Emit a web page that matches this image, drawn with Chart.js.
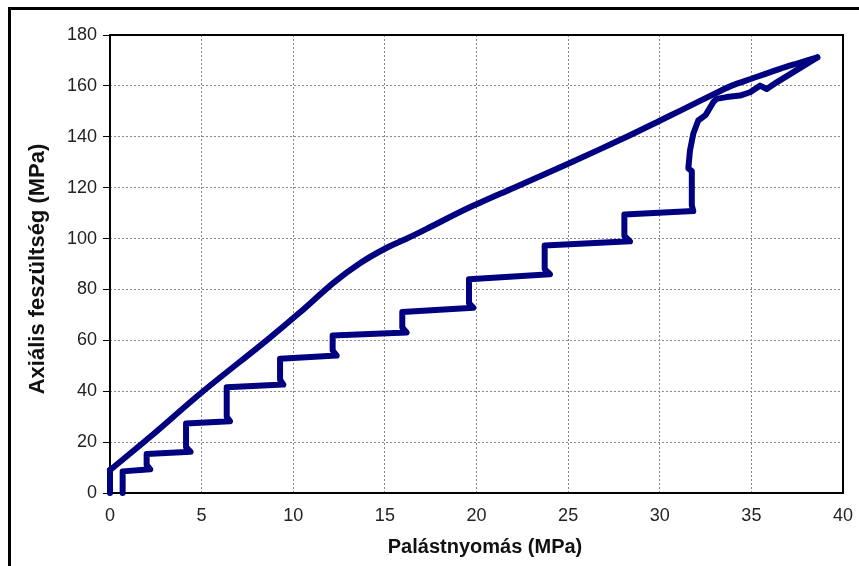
<!DOCTYPE html>
<html>
<head>
<meta charset="utf-8">
<script src="https://cdn.jsdelivr.net/npm/chart.js@4.4.1/dist/chart.umd.min.js"></script>
<style>
  html, body { margin: 0; padding: 0; background: #fff; overflow: hidden; }
  #wrap { position: relative; width: 859px; height: 566px; }
  #box { position: absolute; left: 8px; top: 7px; width: 900px; height: 600px; border: 3px solid #000; }
  canvas { position: absolute; left: 0; top: 0; }
</style>
</head>
<body>
<div id="wrap">
  <div id="box"></div>
  <canvas id="chart" width="859" height="566"></canvas>
</div>
<script>
// loading branch: palástnyomás (MPa) vs axiális feszültség (MPa), stepwise
const loadP = [0.69, 0.69, 2.2, 2.0, 2.0, 4.4, 4.15, 4.15, 6.55, 6.37, 6.37,
  9.46, 9.28, 9.28, 12.37, 12.15, 12.15, 16.19, 15.95, 15.95, 19.83, 19.59, 19.59,
  24.01, 23.72, 23.72, 28.38, 28.07, 28.07, 31.83, 31.75, 31.75, 31.56, 31.65,
  31.83, 32.1, 32.5, 32.92, 33.1, 33.65, 34.38, 34.93, 35.47, 35.84, 36.38, 38.6];
const loadS = [0, 8.5, 9.3, 11, 15.3, 16.2, 18, 27.3, 28.2, 30, 41.6,
  42.6, 44.5, 52.8, 54.0, 56, 61.9, 63.1, 65, 71.1, 72.8, 74.6, 84.0,
  86.0, 88, 97.3, 98.9, 101, 109.5, 110.8, 113, 126.5, 127.6, 134.6,
  141.2, 146.4, 148.5, 153.6, 154.9, 155.6, 156.2, 157.5, 160.1, 158.8, 161.4, 171.2];

// unloading branch back towards the origin (smooth curve)
const unloadP = [38.6, 37.5, 36.56, 35.0, 33.9, 33.3, 31.1, 30, 28.2, 25, 22.05,
  19.46, 17.28, 16.2, 15, 13.64, 12.19, 10.37, 8.55, 5, 2.18, 0];
const unloadS = [171.2, 168.8, 166.7, 162.8, 160, 158, 150.2, 146.3, 140, 129.4, 120,
  111.7, 103.8, 100, 96, 90.3, 82.6, 71, 60, 39.5, 22, 9];

// last piece down the y axis
const endP = [0, 0];
const endS = [9, 0];

const xTicks = [0, 5, 10, 15, 20, 25, 30, 35, 40];
const yTicks = [0, 20, 40, 60, 80, 100, 120, 140, 160, 180];

const toPoints = (xs, ys) => xs.map((x, i) => ({x: x, y: ys[i]}));

const lineStyle = {
  borderColor: '#000080',
  borderWidth: 6,
  pointRadius: 0,
  showLine: true,
  tension: 0,
  borderJoinStyle: 'round',
  borderCapStyle: 'round',
  clip: false
};

const font = 'Liberation Sans, Arial, sans-serif';

// black frame round the plot area + the two axis titles
const plotFrame = {
  id: 'plotFrame',
  beforeDatasetsDraw(chart) {
    const {ctx, chartArea: a} = chart;
    ctx.save();
    ctx.strokeStyle = '#000';
    ctx.lineWidth = 2;
    ctx.strokeRect(a.left, a.top, a.right - a.left, a.bottom - a.top);

    ctx.fillStyle = '#111';
    ctx.textAlign = 'center';
    ctx.textBaseline = 'middle';
    ctx.font = 'bold 20px ' + font;
    ctx.fillText('Palástnyomás (MPa)', 485, 547);
    ctx.translate(37.5, 269);
    ctx.rotate(-Math.PI / 2);
    ctx.font = 'bold 22px ' + font;
    ctx.fillText('Axiális feszültség (MPa)', 0, 0);
    ctx.restore();
  }
};

new Chart(document.getElementById('chart'), {
  type: 'scatter',
  data: {
    datasets: [
      Object.assign({label: 'terhelés', data: toPoints(loadP, loadS)}, lineStyle),
      Object.assign({label: 'tehermentesítés', data: toPoints(unloadP, unloadS)}, lineStyle, {tension: 0.3}),
      Object.assign({label: 'vég', data: toPoints(endP, endS)}, lineStyle)
    ]
  },
  options: {
    responsive: false,
    animation: false,
    layout: {padding: {left: 0, top: 35, right: 16, bottom: 0}},
    plugins: {legend: {display: false}, tooltip: {enabled: false}},
    scales: {
      x: {
        type: 'linear',
        min: xTicks[0],
        max: xTicks[xTicks.length - 1],
        afterBuildTicks: s => { s.ticks = xTicks.map(v => ({value: v})); },
        afterFit: s => { s.height = 73; s.paddingLeft = 0; s.paddingRight = 0; },
        grid: {color: '#8a8a8a', lineWidth: 1, drawTicks: false},
        border: {display: false, dash: [2, 2]},
        ticks: {color: '#222', padding: 12, font: {family: font, size: 18}}
      },
      y: {
        type: 'linear',
        min: yTicks[0],
        max: yTicks[yTicks.length - 1],
        afterBuildTicks: s => { s.ticks = yTicks.map(v => ({value: v})); },
        afterFit: s => { s.width = 110; s.paddingTop = 0; s.paddingBottom = 0; },
        grid: {color: '#8a8a8a', lineWidth: 1, drawTicks: true, tickLength: 7,
          tickColor: '#000', tickWidth: 1, tickBorderDash: []},
        border: {display: false, dash: [2, 2]},
        ticks: {color: '#222', padding: 6, font: {family: font, size: 18}}
      }
    }
  },
  plugins: [plotFrame]
});
</script>
</body>
</html>
